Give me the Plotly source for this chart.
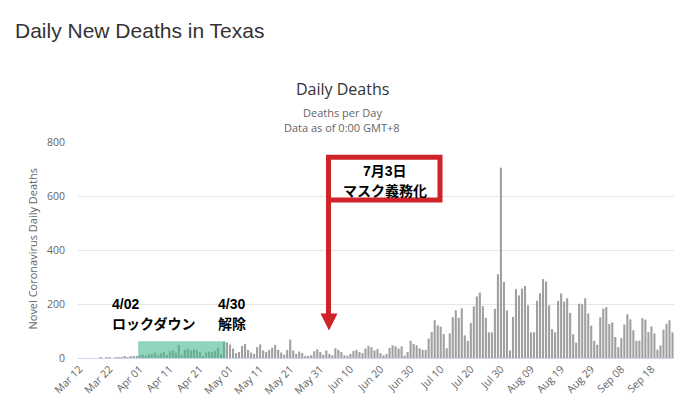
import pandas as pd
import plotly.graph_objects as go

# ---- data ----
start_date = "2020-03-12"
deaths = [
    0, 0, 0, 0, 0, 0, 0, 1, 0, 1,
    1, 0, 1, 2, 1, 4, 3, 4, 6, 8,
    10, 12, 8, 15, 14, 20, 10, 18, 22, 12,
    25, 28, 20, 48, 12, 30, 34, 28, 32, 30,
    22, 8, 20, 24, 22, 26, 38, 14, 60, 58,
    50, 35, 18, 22, 45, 52, 30, 20, 15, 40,
    50, 28, 22, 30, 38, 48, 30, 20, 12, 30,
    68, 28, 15, 24, 18, 8, 6, 10, 25, 32,
    22, 12, 28, 15, 10, 36, 30, 22, 10, 8,
    15, 26, 30, 22, 18, 35, 45, 40, 28,
    33, 18, 10, 15, 37, 47, 43, 35, 43, 9,
    22, 64, 52, 47, 35, 30, 30, 72, 96, 140,
    121, 116, 89, 36, 91, 151, 177, 149, 184, 84,
    64, 130, 191, 228, 242, 192, 149, 95, 95, 182,
    310, 705, 282, 176, 28, 152, 255, 232, 257, 267,
    195, 95, 95, 212, 240, 292, 283, 195, 107, 95,
    212, 239, 209, 221, 167, 88, 57, 201, 199, 221,
    165, 120, 64, 49, 151, 183, 188, 126, 132, 78,
    40, 74, 124, 162, 143, 103, 64, 64, 148, 142,
    96, 117, 91, 31, 47, 105, 127, 140, 95,
]
categories = list(pd.date_range(start_date, periods=len(deaths)).strftime("%b %d"))
tick_labels = categories[::10]
y_ticks = [0, 200, 400, 600, 800]

page_title = "Daily New Deaths in Texas"
chart_title = "Daily Deaths"
subtitle_1 = "Deaths per Day"
subtitle_2 = "Data as of 0:00 GMT+8"
y_title = "Novel Coronavirus Daily Deaths"
lockdown_idx = ("Apr 01", "Apr 29")

# ---- geometry helpers (pixel -> paper) ----
W, H = 685, 408
L, R, T, B = 78, 674, 142, 361


def xp(px):
    return (px - L) / (R - L)


def yp(py):
    return (B - py) / (B - T)


fig = go.Figure()
fig.add_trace(go.Bar(
    x=categories, y=deaths,
    marker=dict(color="#a0a0a0", line=dict(width=0)),
    hoverinfo="x+y",
))

grey = "#666666"
base_font = "Open Sans, DejaVu Sans, sans-serif"
jp_font = "Liberation Sans, Noto Sans CJK JP, sans-serif"

fig.update_layout(
    width=W, height=H,
    margin=dict(l=L, r=W - R, t=T, b=H - B),
    paper_bgcolor="white", plot_bgcolor="white",
    bargap=0.3,
    showlegend=False,
    font=dict(family=base_font, color=grey, size=11),
    xaxis=dict(
        type="category",
        categoryorder="array", categoryarray=categories,
        range=[-0.5, len(deaths) - 0.5],
        tickmode="array", tickvals=tick_labels, ticktext=tick_labels,
        tickangle=-45, tickfont=dict(size=10.5, color=grey),
        showgrid=False, showline=True, linecolor="#ccd6eb", linewidth=1,
        ticks="", fixedrange=True,
    ),
    yaxis=dict(
        range=[0, 800], tickvals=y_ticks,
        tickfont=dict(size=10.5, color=grey),
        showgrid=True, gridcolor="#e6e6e6", gridwidth=1,
        zeroline=False, ticks="outside", ticklen=10,
        tickcolor="rgba(0,0,0,0)", fixedrange=True,
    ),
)

red = "#cf2229"
shapes = [
    # lockdown highlight
    dict(type="rect", xref="x", yref="y",
         x0=categories.index(lockdown_idx[0]) - 0.5,
         x1=categories.index(lockdown_idx[1]) + 0.5,
         y0=0, y1=62, fillcolor="rgb(70,185,142)", opacity=0.6,
         line=dict(width=0), layer="above"),
    # red box
    dict(type="rect", xref="paper", yref="paper",
         x0=xp(328.5), x1=xp(440), y0=yp(200.8), y1=yp(157.5),
         line=dict(color=red, width=5), fillcolor="white"),
    # red arrow shaft
    dict(type="line", xref="paper", yref="paper",
         x0=xp(328.5), x1=xp(328.5), y0=yp(157.5), y1=yp(318),
         line=dict(color=red, width=5)),
    # red arrow head
    dict(type="path", xref="paper", yref="paper",
         path=f"M {xp(320.5)},{yp(316)} L {xp(337.5)},{yp(316)} L {xp(329)},{yp(333)} Z",
         fillcolor=red, line=dict(color=red, width=0)),
]
fig.update_layout(shapes=shapes)

ann = []
ann.append(dict(text=page_title, x=xp(13), y=yp(29), xanchor="left", yanchor="middle",
                font=dict(family="Liberation Sans, Arial, sans-serif", size=21, color="#333333")))
ann.append(dict(text=chart_title, x=xp(342), y=yp(88), xanchor="center", yanchor="middle",
                font=dict(family=base_font, size=16, color="#333333")))
ann.append(dict(text=subtitle_1, x=xp(342), y=yp(112), xanchor="center", yanchor="middle",
                font=dict(family=base_font, size=11, color=grey)))
ann.append(dict(text=subtitle_2, x=xp(342), y=yp(127), xanchor="center", yanchor="middle",
                font=dict(family=base_font, size=11, color=grey)))
ann.append(dict(text=y_title, x=xp(33), y=yp(250), xanchor="center", yanchor="middle",
                textangle=-90, font=dict(family=base_font, size=11, color=grey)))
# red box texts
ann.append(dict(text="<b>7月3日</b>", x=xp(385), y=yp(171), xanchor="center", yanchor="middle",
                font=dict(family=jp_font, size=14, color="black")))
ann.append(dict(text="<b>マスク義務化</b>", x=xp(385), y=yp(192), xanchor="center", yanchor="middle",
                font=dict(family=jp_font, size=14, color="black")))
# lockdown texts
for txt, px, py in [("4/02", 110, 306.5), ("ロックダウン", 110, 326.5),
                    ("4/30", 216, 306.5), ("解除", 216, 326.5)]:
    ann.append(dict(text=f"<b>{txt}</b>", x=xp(px), y=yp(py), xanchor="left", yanchor="middle",
                    font=dict(family=jp_font, size=14, color="black")))

for a in ann:
    a.update(xref="paper", yref="paper", showarrow=False)
fig.update_layout(annotations=ann)

fig.write_html(
    "out.html",
    config={"displayModeBar": False},
    post_script="document.body.style.margin='0';document.body.style.padding='0';",
)
